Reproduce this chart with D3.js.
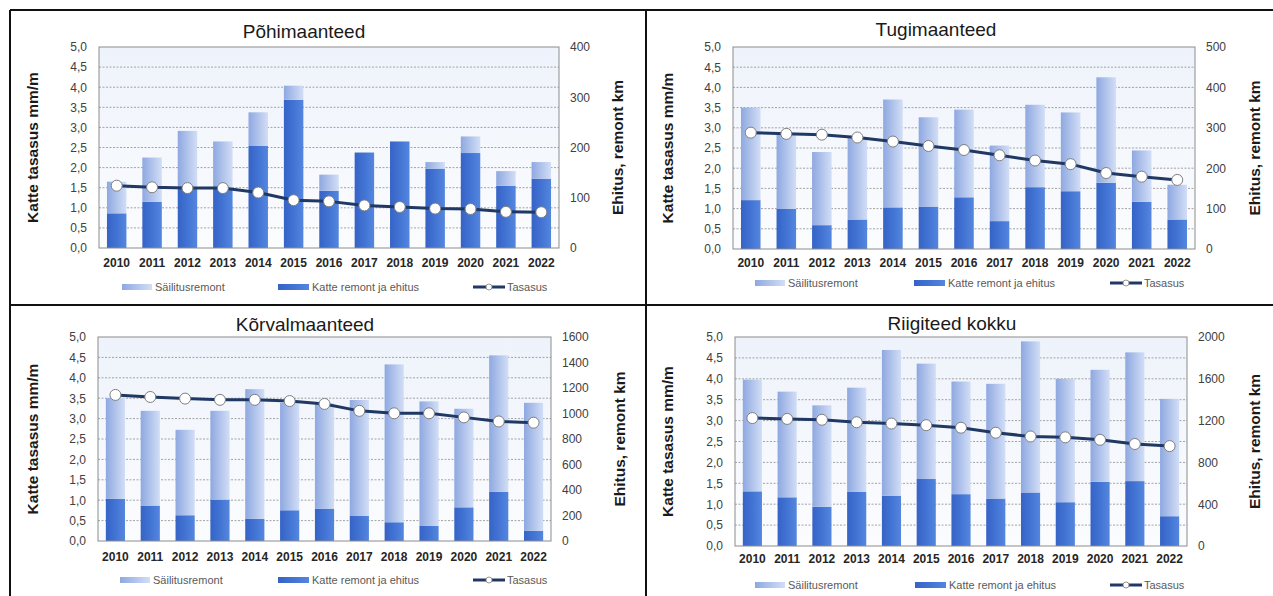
<!DOCTYPE html>
<html>
<head>
<meta charset="utf-8">
<script src="https://cdn.jsdelivr.net/npm/d3@7"></script>
<style>
  html, body { margin: 0; padding: 0; background: #fff; }
  svg { display: block; font-family: "Liberation Sans", Arial, sans-serif; }
</style>
</head>
<body>
<svg id="chart" width="1273" height="596"></svg>
<script>
// Years on the category axis
const years = ["2010","2011","2012","2013","2014","2015","2016","2017","2018","2019","2020","2021","2022"];

// Põhimaanteed
const pohiKatte    = [69, 92, 118, 118, 203, 295, 114, 190, 212, 158, 189, 124, 138];
const pohiSailitus = [63, 88, 115, 94, 67, 28, 32, 0, 0, 13, 33, 29, 33];
const pohiTasasus  = [1.55, 1.51, 1.49, 1.49, 1.38, 1.19, 1.16, 1.06, 1.02, 0.98, 0.97, 0.90, 0.89];

// Tugimaanteed
const tugiKatte    = [121, 99, 59, 73, 103, 105, 128, 69, 153, 143, 164, 117, 73];
const tugiSailitus = [229, 188, 181, 204, 267, 221, 217, 187, 204, 195, 261, 127, 86];
const tugiTasasus  = [2.88, 2.85, 2.83, 2.76, 2.66, 2.55, 2.45, 2.32, 2.19, 2.10, 1.88, 1.79, 1.71];

// Kõrvalmaanteed
const korvalKatte    = [330, 278, 202, 325, 173, 241, 254, 196, 147, 118, 264, 385, 79];
const korvalSailitus = [791, 743, 670, 696, 1018, 844, 826, 910, 1238, 977, 773, 1071, 1005];
const korvalTasasus  = [3.58, 3.53, 3.49, 3.46, 3.46, 3.43, 3.36, 3.19, 3.13, 3.13, 3.03, 2.93, 2.90];

// Riigiteed kokku
const kokkuKatte    = [523, 466, 376, 517, 482, 641, 496, 454, 512, 419, 614, 621, 285];
const kokkuSailitus = [1069, 1011, 970, 998, 1394, 1104, 1078, 1098, 1446, 1181, 1072, 1232, 1123];
const kokkuTasasus  = [3.06, 3.04, 3.02, 2.96, 2.93, 2.89, 2.83, 2.71, 2.62, 2.60, 2.54, 2.44, 2.39];

// Axis ticks
const leftTicks = [0, 0.5, 1, 1.5, 2, 2.5, 3, 3.5, 4, 4.5, 5];
const pohiRightTicks   = [0, 100, 200, 300, 400];
const tugiRightTicks   = [0, 100, 200, 300, 400, 500];
const korvalRightTicks = [0, 200, 400, 600, 800, 1000, 1200, 1400, 1600];
const kokkuRightTicks  = [0, 400, 800, 1200, 1600, 2000];

// Text
const titles = ["Põhimaanteed", "Tugimaanteed", "Kõrvalmaanteed", "Riigiteed kokku"];
const leftAxisTitle = "Katte tasasus mm/m";
const rightAxisTitle = "Ehitus, remont km";
const legendLabels = ["Säilitusremont", "Katte remont ja ehitus", "Tasasus"];

const panels = [
  { title: titles[0], katte: pohiKatte, sail: pohiSailitus, line: pohiTasasus, rTicks: pohiRightTicks,
    plot: {x0: 99, x1: 559, y0: 47, y1: 248}, tx: 304, ty: 31, lTitleX: 33, rTitleX: 618, yearY: 263,
    legY: 287, leg: [122, 278, 473] },
  { title: titles[1], katte: tugiKatte, sail: tugiSailitus, line: tugiTasasus, rTicks: tugiRightTicks,
    plot: {x0: 733, x1: 1195, y0: 47, y1: 249}, tx: 936, ty: 29, lTitleX: 668, rTitleX: 1255, yearY: 263,
    legY: 283, leg: [755, 914, 1110] },
  { title: titles[2], katte: korvalKatte, sail: korvalSailitus, line: korvalTasasus, rTicks: korvalRightTicks,
    plot: {x0: 98, x1: 551, y0: 337, y1: 541}, tx: 305, ty: 324, lTitleX: 33, rTitleX: 620, yearY: 557,
    legY: 580, leg: [120, 278, 473] },
  { title: titles[3], katte: kokkuKatte, sail: kokkuSailitus, line: kokkuTasasus, rTicks: kokkuRightTicks,
    plot: {x0: 735, x1: 1187, y0: 337, y1: 546}, tx: 952, ty: 323, lTitleX: 668, rTitleX: 1255, yearY: 559,
    legY: 585, leg: [755, 915, 1110] }
];

const svg = d3.select("#chart");
const defs = svg.append("defs");

function hGrad(id, stops) {
  const g = defs.append("linearGradient").attr("id", id)
    .attr("x1", "0%").attr("x2", "100%").attr("y1", "0%").attr("y2", "0%");
  stops.forEach(([o, c]) => g.append("stop").attr("offset", o).attr("stop-color", c));
}
hGrad("gLight", [["0%", "#8ea8e0"], ["100%", "#d2def6"]]);
hGrad("gDark", [["0%", "#3563c6"], ["60%", "#4577d6"], ["100%", "#5586de"]]);
const bg = defs.append("linearGradient").attr("id", "gBg")
  .attr("x1", "0%").attr("x2", "0%").attr("y1", "0%").attr("y2", "100%");
bg.append("stop").attr("offset", "0%").attr("stop-color", "#eef3fb");
bg.append("stop").attr("offset", "100%").attr("stop-color", "#fbfcfe");

// Panel frame lines
const frame = svg.append("g").attr("stroke", "#111").attr("stroke-width", 2);
frame.append("line").attr("x1", 10).attr("x2", 1273).attr("y1", 10).attr("y2", 10);
frame.append("line").attr("x1", 10).attr("x2", 10).attr("y1", 10).attr("y2", 596);
frame.append("line").attr("x1", 646).attr("x2", 646).attr("y1", 10).attr("y2", 596);
frame.append("line").attr("x1", 10).attr("x2", 1273).attr("y1", 305).attr("y2", 305);

panels.forEach(p => {
  const g = svg.append("g");
  const {x0, x1, y0, y1} = p.plot;

  const x = d3.scaleBand().domain(years).range([x0, x1]).paddingInner(0.45).paddingOuter(0.225);
  const yL = d3.scaleLinear().domain([0, 5]).range([y1, y0]);
  const yR = d3.scaleLinear().domain([0, d3.max(p.rTicks)]).range([y1, y0]);

  // plot area
  g.append("rect").attr("x", x0).attr("y", y0).attr("width", x1 - x0).attr("height", y1 - y0)
    .attr("fill", "url(#gBg)");

  // grid
  g.append("g").selectAll("line").data(leftTicks.filter(t => t > 0 && t < 5)).join("line")
    .attr("x1", x0).attr("x2", x1).attr("y1", d => yL(d)).attr("y2", d => yL(d))
    .attr("stroke", "#a3a3a3").attr("stroke-width", 1).attr("stroke-dasharray", "2,1.5");

  // stacked bars
  const rows = years.map((yr, i) => ({ yr, katte: p.katte[i], sail: p.sail[i] }));
  g.append("g").selectAll("rect").data(rows).join("rect")
    .attr("x", d => x(d.yr)).attr("width", x.bandwidth())
    .attr("y", d => yR(d.katte)).attr("height", d => yR(0) - yR(d.katte))
    .attr("fill", "url(#gDark)");
  g.append("g").selectAll("rect").data(rows).join("rect")
    .attr("x", d => x(d.yr)).attr("width", x.bandwidth())
    .attr("y", d => yR(d.katte + d.sail)).attr("height", d => yR(d.katte) - yR(d.katte + d.sail))
    .attr("fill", "url(#gLight)");

  // plot border
  g.append("rect").attr("x", x0).attr("y", y0).attr("width", x1 - x0).attr("height", y1 - y0)
    .attr("fill", "none").attr("stroke", "#8c8c8c").attr("stroke-width", 1);

  // line series
  const pts = years.map((yr, i) => [x(yr) + x.bandwidth() / 2, yL(p.line[i])]);
  g.append("path").attr("d", d3.line()(pts)).attr("fill", "none")
    .attr("stroke", "#1f3864").attr("stroke-width", 3).attr("stroke-linejoin", "round");
  g.append("g").selectAll("circle").data(pts).join("circle")
    .attr("cx", d => d[0]).attr("cy", d => d[1]).attr("r", 5.5)
    .attr("fill", "#fff").attr("stroke", "#7f7f7f").attr("stroke-width", 1);

  // left axis
  const axL = g.append("g").attr("transform", `translate(${x0},0)`)
    .call(d3.axisLeft(yL).tickValues(leftTicks).tickSize(0).tickPadding(12)
      .tickFormat(d => d3.format(".1f")(d).replace(".", ",")));
  axL.select(".domain").remove();
  axL.selectAll("text").attr("font-size", 12).attr("fill", "#404040")
    .attr("font-family", "Liberation Sans, Arial, sans-serif");

  // right axis
  const axR = g.append("g").attr("transform", `translate(${x1},0)`)
    .call(d3.axisRight(yR).tickValues(p.rTicks).tickSize(0).tickPadding(11).tickFormat(d3.format("d")));
  axR.select(".domain").remove();
  axR.selectAll("text").attr("font-size", 12).attr("fill", "#404040")
    .attr("font-family", "Liberation Sans, Arial, sans-serif");

  // category labels
  g.append("g").selectAll("text").data(years).join("text")
    .attr("x", d => x(d) + x.bandwidth() / 2).attr("y", p.yearY).attr("dy", "0.35em")
    .attr("text-anchor", "middle").attr("font-size", 12).attr("font-weight", "bold")
    .attr("fill", "#262626").text(d => d);

  // titles
  g.append("text").attr("x", p.tx).attr("y", p.ty).attr("dy", "0.35em").attr("text-anchor", "middle")
    .attr("font-size", 19).attr("fill", "#1a1a1a").text(p.title);
  const ym = (y0 + y1) / 2;
  g.append("text").attr("transform", `translate(${p.lTitleX},${ym}) rotate(-90)`)
    .attr("text-anchor", "middle").attr("dy", "0.35em").attr("font-size", 15.5).attr("font-weight", "bold")
    .attr("fill", "#1a1a1a").text(leftAxisTitle);
  g.append("text").attr("transform", `translate(${p.rTitleX},${ym}) rotate(-90)`)
    .attr("text-anchor", "middle").attr("dy", "0.35em").attr("font-size", 15.5).attr("font-weight", "bold")
    .attr("fill", "#1a1a1a").text(rightAxisTitle);

  // legend
  const lg = g.append("g").attr("font-size", 11).attr("fill", "#595959");
  const ly = p.legY;
  lg.append("rect").attr("x", p.leg[0]).attr("y", ly - 3).attr("width", 30).attr("height", 6).attr("fill", "url(#gLight)");
  lg.append("text").attr("x", p.leg[0] + 33).attr("y", ly).attr("dy", "0.35em").text(legendLabels[0]);
  lg.append("rect").attr("x", p.leg[1]).attr("y", ly - 3).attr("width", 31).attr("height", 6).attr("fill", "url(#gDark)");
  lg.append("text").attr("x", p.leg[1] + 34).attr("y", ly).attr("dy", "0.35em").text(legendLabels[1]);
  lg.append("line").attr("x1", p.leg[2]).attr("x2", p.leg[2] + 32).attr("y1", ly).attr("y2", ly)
    .attr("stroke", "#1f3864").attr("stroke-width", 3);
  lg.append("circle").attr("cx", p.leg[2] + 16).attr("cy", ly).attr("r", 3)
    .attr("fill", "#fff").attr("stroke", "#7f7f7f").attr("stroke-width", 0.8);
  lg.append("text").attr("x", p.leg[2] + 34).attr("y", ly).attr("dy", "0.35em").text(legendLabels[2]);
});
</script>
</body>
</html>
